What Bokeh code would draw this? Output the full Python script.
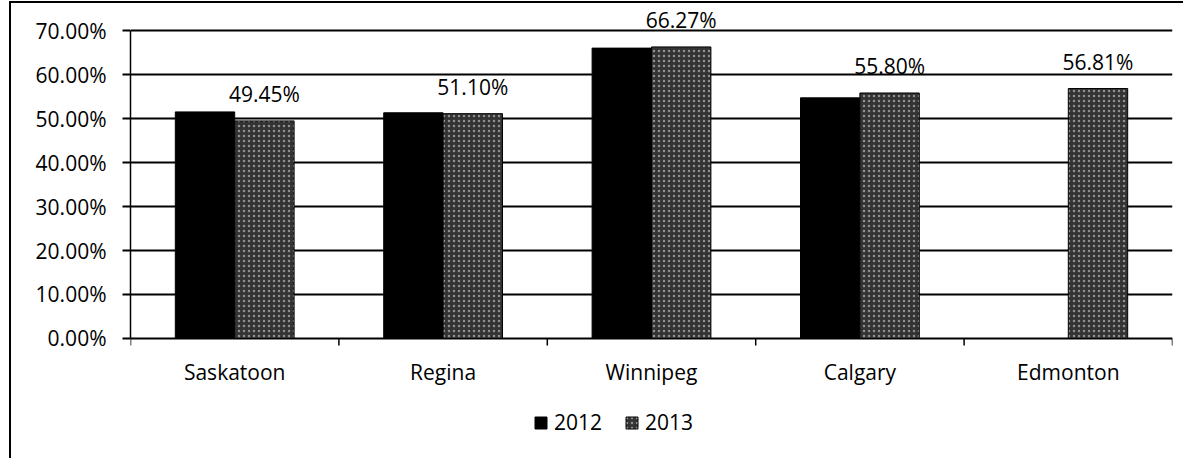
from bokeh.plotting import figure
from bokeh.models import (ColumnDataSource, Range1d, FixedTicker, PrintfTickFormatter,
                          Legend, LegendItem)
from bokeh.transform import dodge
from bokeh.core.properties import value
from bokeh.embed import file_html
from bokeh.resources import INLINE
import numpy as np

cities = ["Saskatoon", "Regina", "Winnipeg", "Calgary", "Edmonton"]
y2012 = [51.5, 51.3, 66.0, 54.7, None]
y2013 = [49.45, 51.10, 66.27, 55.80, 56.81]
yticks = [0, 10, 20, 30, 40, 50, 60, 70]

FONT = "Open Sans"
FS = "21px"

n = len(cities)
pos = [i + 0.5 for i in range(n)]
src = ColumnDataSource(dict(
    x=pos,
    y2012=[np.nan if v is None else v for v in y2012],
    y2013=y2013,
    lab=["%.2f%%" % v for v in y2013],
    city=cities,
    zero=[0] * n,
))
bsrc = ColumnDataSource(dict(bx=list(range(n + 1)), by0=[0] * (n + 1), by1=[-1.6] * (n + 1)))

p = figure(width=1174, height=457, output_backend="svg", toolbar_location=None,
           x_range=Range1d(0, n), y_range=Range1d(-27.73, 76.14),
           min_border_left=119, min_border_right=13, min_border_top=0,
           min_border_bottom=0)
p.styles = {"margin-left": "9px", "margin-top": "1px",
            "border-left": "2px solid black", "border-top": "2px solid black"}
p.outline_line_color = None
p.background_fill_color = "white"
p.border_fill_color = "white"

bw = 0.285
r1 = p.vbar(x=dodge("x", -bw / 2, range=p.x_range), top="y2012", width=bw, source=src,
            fill_color="black", line_color="black")
r2 = p.vbar(x=dodge("x", bw / 2, range=p.x_range), top="y2013", width=bw, source=src,
            fill_color="#333333", line_color="black",
            hatch_pattern="dot", hatch_color="white", hatch_alpha=0.45, hatch_scale=5)

# value labels
p.text(x=dodge("x", bw / 2, range=p.x_range), y="y2013", text="lab", source=src,
       text_align="center", text_baseline="bottom", y_offset=-13,
       text_font=value(FONT), text_font_size=FS, text_color="black")

# category axis (drawn in frame so that the legend can sit below it)
p.segment(x0="bx", y0="by0", x1="bx", y1="by1", source=bsrc,
          line_color="black", line_width=1.5)
p.text(x="x", y="zero", text="city", source=src, text_align="center",
       text_baseline="middle", y_offset=34,
       text_font=value(FONT), text_font_size=FS, text_color="black")
p.xaxis.visible = False

# y axis
p.yaxis.ticker = FixedTicker(ticks=yticks)
p.yaxis.bounds = (0, 70)
p.yaxis.formatter = PrintfTickFormatter(format="%.2f%%")
p.yaxis.axis_line_color = "black"
p.yaxis.axis_line_width = 1.5
p.yaxis.major_tick_line_color = "black"
p.yaxis.major_tick_line_width = 2
p.yaxis.major_tick_out = 8
p.yaxis.major_tick_in = 0
p.yaxis.minor_tick_line_color = None
p.yaxis.major_label_standoff = 16
p.yaxis.major_label_text_font = FONT
p.yaxis.major_label_text_font_size = FS
p.yaxis.major_label_text_color = "black"

p.xgrid.grid_line_color = None
p.ygrid.ticker = FixedTicker(ticks=yticks)
p.ygrid.grid_line_color = "black"
p.ygrid.grid_line_width = 2

legend = Legend(items=[LegendItem(label="2012", renderers=[r1]),
                       LegendItem(label="2013", renderers=[r2])],
                orientation="horizontal", location=(403, 24),
                border_line_color=None, background_fill_alpha=0,
                label_text_font=FONT, label_text_font_size=FS,
                label_text_color="black",
                glyph_width=15, glyph_height=15, label_standoff=6, spacing=22,
                padding=0, margin=0)
p.add_layout(legend, "center")

open("out.html", "w").write(file_html(p, INLINE))
